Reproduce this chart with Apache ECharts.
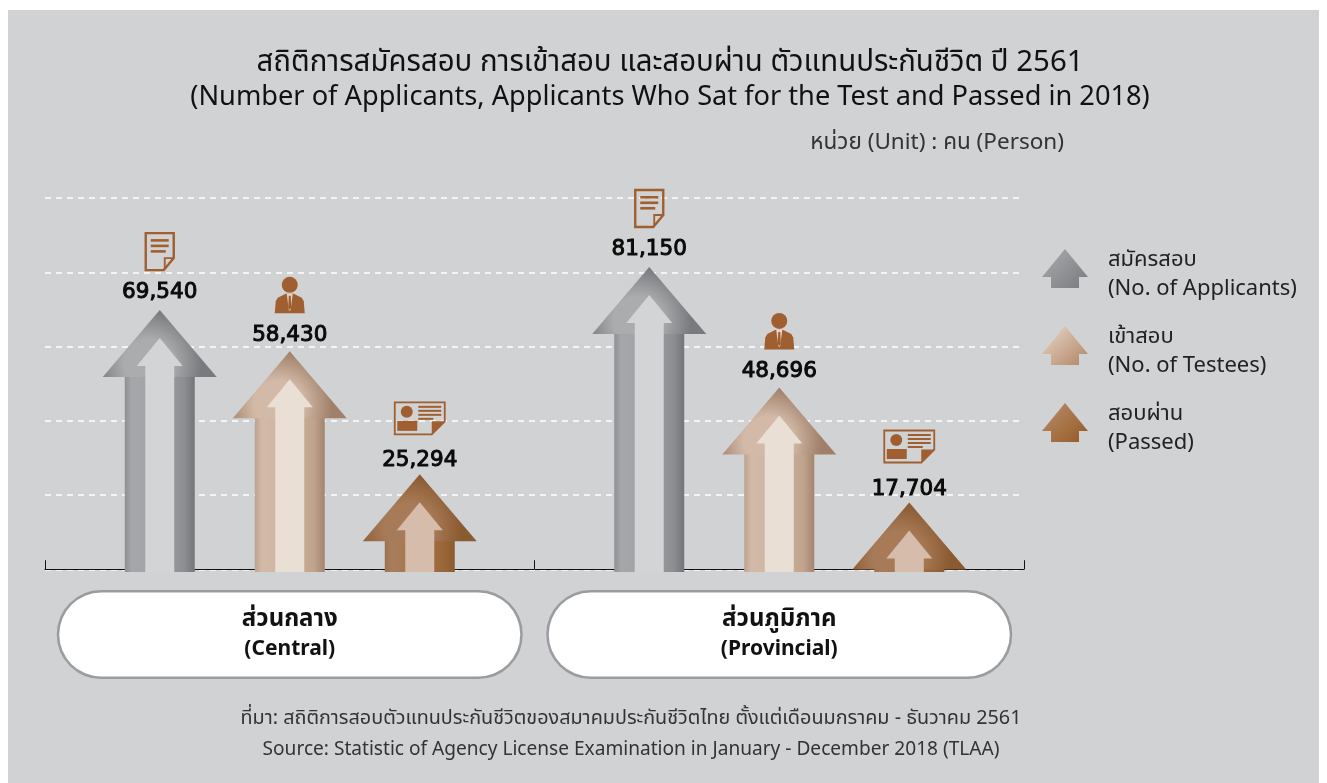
<!DOCTYPE html>
<html>
<head>
<meta charset="utf-8">
<title>TLAA 2561</title>
<style>
html, body { margin: 0; padding: 0; background: #fff; }
#chart { width: 1327px; height: 783px; }
</style>
<script src="https://cdn.jsdelivr.net/npm/echarts@6/dist/echarts.min.js"></script>
</head>
<body>
<div id="chart"></div>
<script>
var categories = ['ส่วนกลาง\n(Central)', 'ส่วนภูมิภาค\n(Provincial)'];
var applicants = [69540, 81150];
var testees = [58430, 48696];
var passed = [25294, 17704];
var seriesNames = ['สมัครสอบ\n(No. of Applicants)', 'เข้าสอบ\n(No. of Testees)', 'สอบผ่าน\n(Passed)'];
var valueTicks = { min: 0, max: 100000, interval: 20000 };

var FONT = '"Noto Sans", "Noto Sans Thai", sans-serif';
var ICON = '#a05f30';
var BG = '#d1d2d4';
var AXIS_DROP = 2.75; // x轴线比0刻度低一点
var LABEL_GAP = [-17.5, -16, -13.5]; // 数字离箭头顶点的距离

function grad(stops) {
	return new echarts.graphic.LinearGradient(0, 0, 1, 0, stops.map(function(s) {
		return { offset: s[0], color: s[1] };
	}));
}
function glow(c0, c1) {
	return new echarts.graphic.RadialGradient(0.4, 0.8, 0.8, [
		{ offset: 0, color: c0 }, { offset: 0.45, color: c0 }, { offset: 1, color: c1 }
	]);
}

// 每组箭头的配色
var looks = [
	{
		head: glow('#abacae', '#787a7d'),
		shaft: grad([[0, '#8f9093'], [0.1, '#a6a7aa'], [0.5, '#a0a1a4'], [0.85, '#8d8e91'], [1, '#737578']]),
		inner: '#d3d4d6'
	},
	{
		head: glow('#d3baa8', '#a0806a'),
		shaft: grad([[0, '#bba390'], [0.1, '#d3baa8'], [0.5, '#cdb3a0'], [0.85, '#c0a38c'], [1, '#a38470']]),
		inner: '#eadfd5'
	},
	{
		head: glow('#a87b58', '#8a5a30'),
		shaft: grad([[0, '#9b7250'], [0.1, '#a97e5d'], [0.5, '#a37449'], [0.85, '#9a6638'], [1, '#8a5a30']]),
		inner: '#d6bcaa'
	}
];

function poly(points, style) {
	return { type: 'polygon', shape: { points: points }, style: style };
}
function box(x, y, w, h, fill) {
	return { type: 'rect', shape: { x: x, y: y, width: w, height: h }, style: { fill: fill } };
}

// 图标，坐标相对箭头顶点
function docIcon() {
	return [
		poly([[-14, -77], [14, -77], [14, -52], [4, -40], [-14, -40]], { fill: 'none', stroke: ICON, lineWidth: 2.4 }),
		{ type: 'polyline', shape: { points: [[14, -52], [5, -52], [5, -41]] }, style: { fill: 'none', stroke: ICON, lineWidth: 1.8 } },
		box(-9, -71, 18, 2.6, ICON),
		box(-9, -65.5, 18, 2.6, ICON),
		box(-9, -60, 15, 2.6, ICON)
	];
}
function personIcon() {
	return [
		{ type: 'circle', shape: { cx: 0, cy: -66.5, r: 8 }, style: { fill: ICON } },
		poly([[-15, -38], [-14, -50], [-12, -53.5], [-4, -57.5], [4, -57.5], [12, -53.5], [14, -50], [15, -38]], { fill: ICON }),
		poly([[-3, -57.5], [3, -57.5], [1, -42], [0, -40], [-1, -42]], { fill: '#e6d5c8' }),
		poly([[-1, -55.5], [1, -55.5], [1.5, -44], [0, -41], [-1.5, -44]], { fill: ICON })
	];
}
function cardIcon() {
	return [
		poly([[-25, -72], [25, -72], [25, -53], [12, -40], [-25, -40]], { fill: 'none', stroke: ICON, lineWidth: 1.8 }),
		poly([[25, -53], [12, -53], [12, -40]], { fill: ICON }),
		{ type: 'circle', shape: { cx: -13, cy: -62.5, r: 6 }, style: { fill: ICON } },
		box(-22.5, -53.5, 20, 10, ICON),
		box(-1.5, -68.5, 23, 2, ICON),
		box(-1.5, -64.5, 23, 2, ICON),
		box(-1.5, -60.5, 23, 2, ICON),
		box(-1.5, -56.5, 15, 2, ICON)
	];
}
var icons = [docIcon, personIcon, cardIcon];

function arrowRenderer(idx) {
	return function(params, api) {
		var cat = api.value(0);
		var val = api.value(1);
		var band = api.size([1, 0])[0];
		var top = api.coord([cat, val]);
		var base = api.coord([cat, 0]);
		var cx = top[0] + (idx - 1) * band * 0.2656;
		var tip = top[1] - 1;
		var h = base[1] + AXIS_DROP - tip;
		var look = looks[idx];
		var kids = [];
		if (h > 67) {
			kids.push({ type: 'rect', shape: { x: -35, y: 66, width: 70, height: h - 66 }, style: { fill: look.shaft } });
		}
		kids.push(poly([[0, 0], [57, 67], [-57, 67]], { fill: look.head }));
		kids.push({ type: 'rect', shape: { x: -14.5, y: 55, width: 29, height: h - 55 }, style: { fill: look.inner } });
		kids.push(poly([[0, 28], [23, 56], [-23, 56]], { fill: look.inner }));
		kids.push({
			type: 'text',
			style: {
				x: 0, y: LABEL_GAP[idx], text: echarts.format.addCommas(val), align: 'center', verticalAlign: 'middle',
				font: '21.5px "DejaVu Sans"', fill: '#0a0a0a', stroke: '#0a0a0a', lineWidth: 1
			}
		});
		kids = kids.concat(icons[idx]());
		return { type: 'group', x: cx, y: tip, children: kids };
	};
}

function makeSeries(name, values, idx) {
	return {
		name: name,
		type: 'custom',
		renderItem: arrowRenderer(idx),
		encode: { x: 0, y: 1 },
		clip: false,
		data: values.map(function(v, i) { return [i, v]; })
	};
}

// 末尾的空子路径把图标往上顶，和两行文字对齐
var LEGEND_ICON = 'path://M23 0L46 28L37 28L37 39L9 39L9 28L0 28ZM0 51L0 51';
function legendGrad(c0, c1) {
	return new echarts.graphic.LinearGradient(0, 0, 1, 1, [{ offset: 0, color: c0 }, { offset: 0.76, color: c1 }, { offset: 1, color: c1 }]);
}

var option = {
	animation: false,
	backgroundColor: '#fff',
	graphic: [{ type: 'rect', z: -10, silent: true, shape: { x: 8, y: 10, width: 1311, height: 773 }, style: { fill: BG } }],
	title: [
		{
			text: '{a|สถิติการสมัครสอบ การเข้าสอบ และสอบผ่าน ตัวแทนประกันชีวิต ปี 2561}\n{b|(Number of Applicants, Applicants Who Sat for the Test and Passed in 2018)}',
			left: 670, top: 45, padding: 0, textAlign: 'center',
			textStyle: {
				fontWeight: 'normal',
				rich: {
					a: { fontFamily: FONT, fontSize: 29.4, fontWeight: 'normal', color: '#111', lineHeight: 35 },
					b: { fontFamily: FONT, fontSize: 27.2, fontWeight: 'normal', color: '#111', lineHeight: 35 }
				}
			}
		},
		{
			text: 'หน่วย (Unit) : คน (Person)',
			left: 1064, top: 131, padding: 0, textAlign: 'right',
			textStyle: { fontFamily: FONT, fontSize: 22.5, fontWeight: 'normal', color: '#333' }
		},
		{
			text: '{a|ที่มา: สถิติการสอบตัวแทนประกันชีวิตของสมาคมประกันชีวิตไทย ตั้งแต่เดือนมกราคม - ธันวาคม 2561}\n{b|Source: Statistic of Agency License Examination in January - December 2018 (TLAA)}',
			left: 631, top: 702, padding: 0, textAlign: 'center',
			textStyle: {
				fontWeight: 'normal',
				rich: {
					a: { fontFamily: FONT, fontSize: 19.8, fontWeight: 'normal', color: '#333', lineHeight: 32 },
					b: { fontFamily: FONT, fontSize: 19.1, fontWeight: 'normal', color: '#333', lineHeight: 32 }
				}
			}
		}
	],
	legend: {
		orient: 'vertical',
		left: 1042,
		top: 241.5,
		padding: 0,
		itemWidth: 46,
		itemHeight: 51,
		itemGap: 11,
		textStyle: { fontFamily: FONT, fontSize: 22, color: '#222', lineHeight: 29, padding: [8, 0, 0, 15] },
		data: [
			{ name: seriesNames[0], icon: LEGEND_ICON, itemStyle: { color: legendGrad('#acadaf', '#7e8083') } },
			{ name: seriesNames[1], icon: LEGEND_ICON, itemStyle: { color: legendGrad('#e8d9cc', '#b88f70') } },
			{ name: seriesNames[2], icon: LEGEND_ICON, itemStyle: { color: legendGrad('#bb8f6c', '#99602e') } }
		]
	},
	grid: { left: 45, right: 303, top: 198, bottom: 213.75 },
	xAxis: {
		type: 'category',
		data: categories,
		offset: AXIS_DROP,
		axisLine: { lineStyle: { color: '#111', width: 1 } },
		axisTick: { show: true, alignWithLabel: false, inside: true, length: 9, lineStyle: { color: '#111' } },
		axisLabel: {
			interval: 0,
			margin: 20.5,
			width: 461,
			align: 'center',
			backgroundColor: '#fff',
			borderColor: '#9b9c9f',
			borderWidth: 2.5,
			borderRadius: 44,
			padding: [12, 0, 12, 0],
			formatter: function(v) {
				var p = v.split('\n');
				return '{a|' + p[0] + '}\n{b|' + p[1] + '}';
			},
			rich: {
				a: { fontFamily: FONT, fontSize: 24, fontWeight: 'bold', color: '#111', lineHeight: 30, width: 461, align: 'center' },
				b: { fontFamily: FONT, fontSize: 21, fontWeight: 'bold', color: '#111', lineHeight: 30, width: 461, align: 'center' }
			}
		}
	},
	yAxis: {
		type: 'value',
		min: valueTicks.min,
		max: valueTicks.max,
		interval: valueTicks.interval,
		axisLine: { show: false },
		axisTick: { show: false },
		axisLabel: { show: false },
		splitLine: { lineStyle: { color: '#fff', width: 1.5, type: [6, 5] } }
	},
	series: [
		makeSeries(seriesNames[0], applicants, 0),
		makeSeries(seriesNames[1], testees, 1),
		makeSeries(seriesNames[2], passed, 2)
	]
};

var myChart = echarts.init(document.getElementById('chart'));
myChart.setOption(option);
</script>
</body>
</html>
